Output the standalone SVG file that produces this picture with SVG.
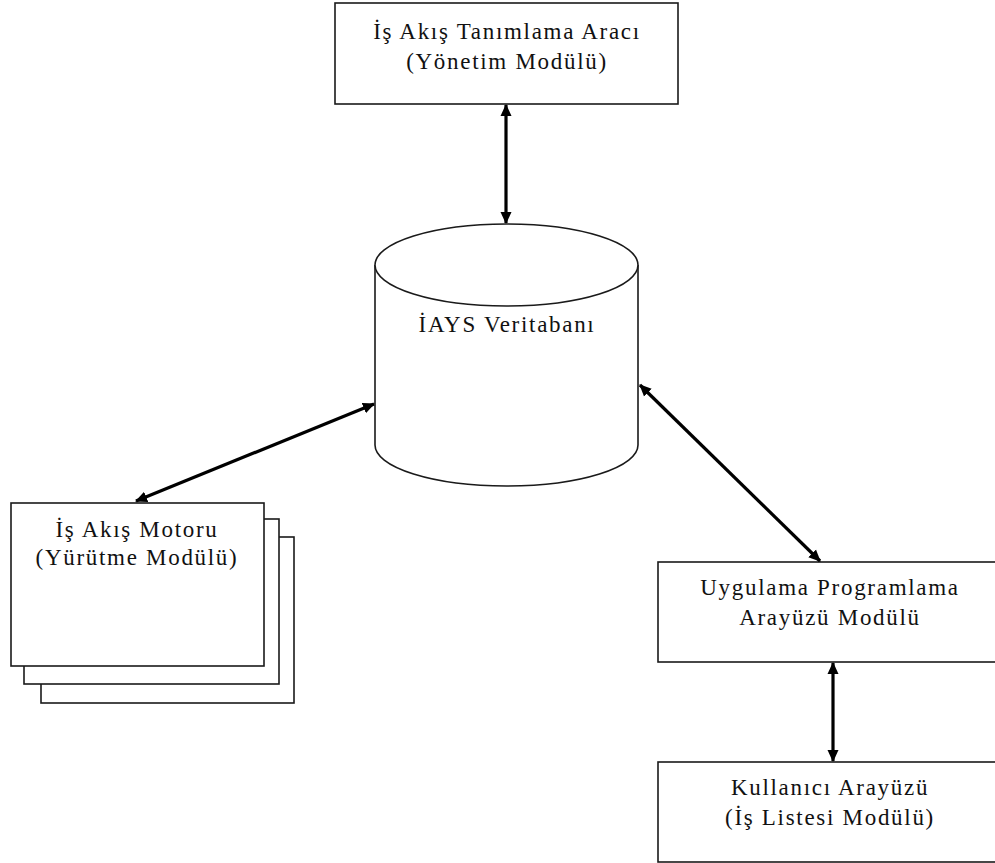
<svg xmlns="http://www.w3.org/2000/svg" width="995" height="863" viewBox="0 0 995 863">
  <style>
    .box { fill: #ffffff; stroke: #1a1a1a; stroke-width: 1.6; }
    .lbl { font-family: "Liberation Serif", "Times New Roman", serif; font-size: 23px; letter-spacing: 1.7px; fill: #111111; text-anchor: middle; }
    .link { stroke: #000000; stroke-width: 3.2; fill: none; marker-start: url(#head); marker-end: url(#head); }
  </style>
  <defs>
    <marker id="head" viewBox="0 0 12 12" refX="11" refY="6" markerWidth="12" markerHeight="12" markerUnits="userSpaceOnUse" orient="auto-start-reverse">
      <path d="M0,0.5 L12,6 L0,11.5 Z" fill="#000000"/>
    </marker>
  </defs>

  <rect width="995" height="863" fill="#ffffff"/>

  <!-- Workflow definition tool -->
  <g id="tanimlama-araci">
    <rect class="box" x="335" y="3" width="343" height="101"/>
    <text class="lbl" x="507" y="39">İş Akış Tanımlama Aracı</text>
    <text class="lbl" x="507" y="69">(Yönetim Modülü)</text>
  </g>

  <!-- Database cylinder -->
  <g id="veritabani">
    <path class="box" d="M375,265 L375,445 A131.5,41 0 0 0 638,445 L638,265 A131.5,41 0 0 0 375,265 Z"/>
    <path class="box" d="M375,265 A131.5,41 0 0 0 638,265" fill="none"/>
    <text class="lbl" x="507" y="332">İAYS Veritabanı</text>
  </g>

  <!-- Workflow engine (stacked instances) -->
  <g id="is-akis-motoru">
    <rect class="box" x="41" y="537" width="253" height="166"/>
    <rect class="box" x="24" y="519" width="255" height="165"/>
    <rect class="box" x="11" y="503" width="253" height="163"/>
    <text class="lbl" x="137" y="537">İş Akış Motoru</text>
    <text class="lbl" x="137" y="565">(Yürütme Modülü)</text>
  </g>

  <!-- API module -->
  <g id="api-modulu">
    <rect class="box" x="658" y="562" width="342" height="100"/>
    <text class="lbl" x="830" y="595">Uygulama Programlama</text>
    <text class="lbl" x="830" y="625">Arayüzü Modülü</text>
  </g>

  <!-- User interface -->
  <g id="kullanici-arayuzu">
    <rect class="box" x="658" y="762" width="342" height="100"/>
    <text class="lbl" x="830" y="795">Kullanıcı Arayüzü</text>
    <text class="lbl" x="830" y="825">(İş Listesi Modülü)</text>
  </g>

  <!-- Bidirectional connectors -->
  <g id="baglantilar">
    <line class="link" x1="506" y1="105" x2="506" y2="223"/>
    <line class="link" x1="374" y1="404" x2="136" y2="501"/>
    <line class="link" x1="640" y1="385" x2="820" y2="561"/>
    <line class="link" x1="833" y1="663" x2="833" y2="761"/>
  </g>
</svg>
